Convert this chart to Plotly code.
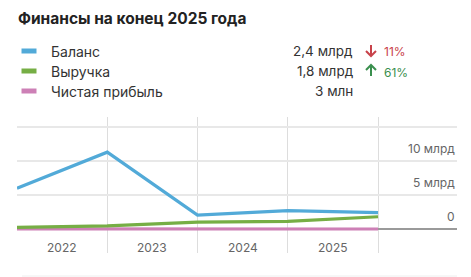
import plotly.graph_objects as go

# ---- data ----
periods = [0, 1, 2, 3, 4]            # year boundaries (end of 2021 .. end of 2025)
year_labels = ["2022", "2023", "2024", "2025"]
year_label_pos = [0.5, 1.5, 2.5, 3.5]
balance = [6.0, 11.3, 2.05, 2.7, 2.4]     # млрд
revenue = [0.25, 0.45, 1.0, 1.12, 1.8]    # млрд
profit = [0.02, 0.01, 0.01, 0.005, 0.003] # млрд
series_names = ["Баланс", "Выручка", "Чистая прибыль"]
series_last = ["2,4 млрд", "1,8 млрд", "3 млн"]
series_change = ["11%", "61%", ""]
series_dir = ["down", "up", ""]
y_tickvals = [0, 5, 10, 15]
y_ticktext = ["0", "5 млрд", "10 млрд", ""]

colors = ["#52aad8", "#76ae45", "#cd80b6"]
W, H = 471, 277
L, R, T, B = 17, 457, 117, 253

def px(x):
    return (x - L) / (R - L)

def py(y):
    return (B - y) / (B - T)

fig = go.Figure()
for name, vals, c in [(series_names[2], profit, colors[2]),
                      (series_names[1], revenue, colors[1]),
                      (series_names[0], balance, colors[0])]:
    fig.add_trace(go.Scatter(x=periods, y=vals, mode="lines", name=name,
                             line=dict(color=c, width=3.2), hoverinfo="skip"))

font = "Inter, Roboto, sans-serif"
ann = []
ann.append(dict(text="<b>Финансы на конец 2025 года</b>", x=px(16), y=py(19),
                xref="paper", yref="paper", xanchor="left", yanchor="middle",
                showarrow=False, font=dict(family=font, size=15.5, color="#222")))
shapes = []
rows_y = [51, 71, 91]
for i in range(3):
    yy = rows_y[i]
    shapes.append(dict(type="line", xref="paper", yref="paper",
                       x0=px(21.5), x1=px(36.5), y0=py(yy), y1=py(yy),
                       line=dict(color=colors[i], width=5)))
    ann.append(dict(text=series_names[i], x=px(49), y=py(yy), xref="paper", yref="paper",
                    xanchor="left", yanchor="middle", showarrow=False,
                    font=dict(family=font, size=14, color="#333")))
    ann.append(dict(text=series_last[i], x=px(355), y=py(yy), xref="paper", yref="paper",
                    xanchor="right", yanchor="middle", showarrow=False,
                    font=dict(family=font, size=13.5, color="#333")))
    if series_dir[i]:
        ccol = "#c8424a" if series_dir[i] == "down" else "#3a8f4e"
        ax = 371
        if series_dir[i] == "down":
            top, bot = yy - 6, yy + 5
            path = (f"M {px(ax)} {py(top)} L {px(ax)} {py(bot)} "
                    f"M {px(ax - 5)} {py(bot - 5)} L {px(ax)} {py(bot)} L {px(ax + 5)} {py(bot - 5)}")
        else:
            top, bot = yy - 6, yy + 5
            path = (f"M {px(ax)} {py(bot)} L {px(ax)} {py(top)} "
                    f"M {px(ax - 5)} {py(top + 5)} L {px(ax)} {py(top)} L {px(ax + 5)} {py(top + 5)}")
        shapes.append(dict(type="path", xref="paper", yref="paper", path=path,
                           line=dict(color=ccol, width=2)))
        ann.append(dict(text=series_change[i], x=px(382), y=py(yy + 1), xref="paper", yref="paper",
                        xanchor="left", yanchor="middle", showarrow=False,
                        font=dict(family=font, size=12, color=ccol)))

for lab, pos in zip(year_labels, year_label_pos):
    ann.append(dict(text=lab, x=pos, y=py(247), xref="x", yref="paper",
                    xanchor="center", yanchor="middle", showarrow=False,
                    font=dict(family=font, size=12, color="#666")))

for val, txt in zip(y_tickvals, y_ticktext):
    if txt:
        ann.append(dict(text=txt, x=px(457), y=val, xref="paper", yref="y",
                        xanchor="right", yanchor="bottom", yshift=3, showarrow=False,
                        font=dict(family=font, size=12, color="#666")))

shapes.append(dict(type="line", xref="paper", yref="paper", x0=px(22), x1=px(457),
                   y0=py(276), y1=py(276), line=dict(color="#eeeeee", width=1)))

fig.update_layout(
    width=W, height=H,
    margin=dict(l=L, r=W - R, t=T, b=H - B),
    paper_bgcolor="white", plot_bgcolor="white",
    showlegend=False,
    annotations=ann, shapes=shapes,
    xaxis=dict(range=[0, 4.875], showticklabels=False, ticks="",
               tickvals=periods, showgrid=True, gridcolor="#dddddd", gridwidth=1,
               zeroline=False, showline=False, fixedrange=True),
    yaxis=dict(range=[-3.53, 16.47], side="right", tickvals=y_tickvals,
               showticklabels=False, showgrid=True, gridcolor="#e8e8e8", gridwidth=1.5,
               zeroline=True, zerolinecolor="#9a9a9a", zerolinewidth=2, ticks="",
               showline=False, fixedrange=True),
)
fig.write_html("out.html")
